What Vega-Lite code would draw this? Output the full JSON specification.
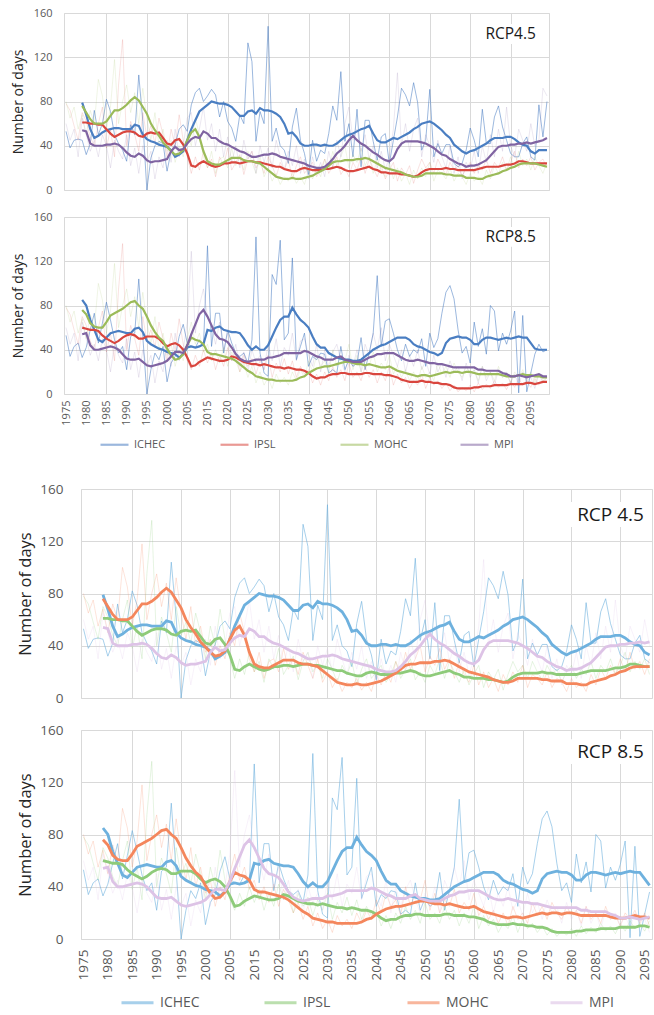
{
"$schema":"https://vega.github.io/schema/vega-lite/v6.json",
"padding":{"left":10,"top":6,"right":0,"bottom":0},
"config":{"font":"Open Sans","view":{"stroke":"#d9d9d9","strokeWidth":1},
"axis":{"labelFont":"Open Sans","titleFont":"Open Sans","labelColor":"#595959","titleColor":"#262626","titleFontWeight":"normal","gridColor":"#d9d9d9","domain":false,"ticks":false,"labelOverlap":false},
"legend":{"labelFont":"Open Sans","layout":{"bottom":{"anchor":"middle"}}},
"text":{"font":"Open Sans"}},
"datasets":{
"annual":[
{"rcp":"4.5","year":1975,"ICHEC":53,"IPSL":78,"MOHC":80,"MPI":60},
{"rcp":"4.5","year":1976,"ICHEC":38,"IPSL":72,"MOHC":65,"MPI":45},
{"rcp":"4.5","year":1977,"ICHEC":45,"IPSL":58,"MOHC":75,"MPI":55},
{"rcp":"4.5","year":1978,"ICHEC":46,"IPSL":45,"MOHC":55,"MPI":30},
{"rcp":"4.5","year":1979,"ICHEC":45,"IPSL":70,"MOHC":68,"MPI":65},
{"rcp":"4.5","year":1980,"ICHEC":32,"IPSL":62,"MOHC":50,"MPI":50},
{"rcp":"4.5","year":1981,"ICHEC":42,"IPSL":48,"MOHC":72,"MPI":35},
{"rcp":"4.5","year":1982,"ICHEC":72,"IPSL":40,"MOHC":60,"MPI":45},
{"rcp":"4.5","year":1983,"ICHEC":50,"IPSL":60,"MOHC":100,"MPI":30},
{"rcp":"4.5","year":1984,"ICHEC":60,"IPSL":75,"MOHC":85,"MPI":50},
{"rcp":"4.5","year":1985,"ICHEC":82,"IPSL":38,"MOHC":55,"MPI":40},
{"rcp":"4.5","year":1986,"ICHEC":71,"IPSL":55,"MOHC":75,"MPI":20},
{"rcp":"4.5","year":1987,"ICHEC":50,"IPSL":30,"MOHC":118,"MPI":45},
{"rcp":"4.5","year":1988,"ICHEC":42,"IPSL":95,"MOHC":60,"MPI":35},
{"rcp":"4.5","year":1989,"ICHEC":36,"IPSL":136,"MOHC":80,"MPI":28},
{"rcp":"4.5","year":1990,"ICHEC":26,"IPSL":40,"MOHC":95,"MPI":50},
{"rcp":"4.5","year":1991,"ICHEC":59,"IPSL":62,"MOHC":70,"MPI":22},
{"rcp":"4.5","year":1992,"ICHEC":50,"IPSL":50,"MOHC":88,"MPI":38},
{"rcp":"4.5","year":1993,"ICHEC":104,"IPSL":35,"MOHC":60,"MPI":15},
{"rcp":"4.5","year":1994,"ICHEC":62,"IPSL":70,"MOHC":92,"MPI":40},
{"rcp":"4.5","year":1995,"ICHEC":0,"IPSL":48,"MOHC":65,"MPI":25},
{"rcp":"4.5","year":1996,"ICHEC":29,"IPSL":58,"MOHC":45,"MPI":35},
{"rcp":"4.5","year":1997,"ICHEC":40,"IPSL":42,"MOHC":70,"MPI":10},
{"rcp":"4.5","year":1998,"ICHEC":44,"IPSL":65,"MOHC":40,"MPI":30},
{"rcp":"4.5","year":1999,"ICHEC":42,"IPSL":50,"MOHC":55,"MPI":20},
{"rcp":"4.5","year":2000,"ICHEC":17,"IPSL":30,"MOHC":35,"MPI":45},
{"rcp":"4.5","year":2001,"ICHEC":35,"IPSL":55,"MOHC":45,"MPI":25},
{"rcp":"4.5","year":2002,"ICHEC":41,"IPSL":40,"MOHC":25,"MPI":55},
{"rcp":"4.5","year":2003,"ICHEC":55,"IPSL":68,"MOHC":40,"MPI":30},
{"rcp":"4.5","year":2004,"ICHEC":59,"IPSL":45,"MOHC":30,"MPI":40},
{"rcp":"4.5","year":2005,"ICHEC":53,"IPSL":30,"MOHC":50,"MPI":65},
{"rcp":"4.5","year":2011,"ICHEC":77,"IPSL":15,"MOHC":40,"MPI":70},
{"rcp":"4.5","year":2012,"ICHEC":88,"IPSL":30,"MOHC":65,"MPI":40},
{"rcp":"4.5","year":2013,"ICHEC":92,"IPSL":18,"MOHC":50,"MPI":55},
{"rcp":"4.5","year":2014,"ICHEC":80,"IPSL":35,"MOHC":30,"MPI":75},
{"rcp":"4.5","year":2015,"ICHEC":85,"IPSL":20,"MOHC":20,"MPI":45},
{"rcp":"4.5","year":2016,"ICHEC":91,"IPSL":28,"MOHC":35,"MPI":60},
{"rcp":"4.5","year":2017,"ICHEC":86,"IPSL":12,"MOHC":15,"MPI":35},
{"rcp":"4.5","year":2018,"ICHEC":66,"IPSL":30,"MOHC":28,"MPI":55},
{"rcp":"4.5","year":2019,"ICHEC":80,"IPSL":22,"MOHC":30,"MPI":30},
{"rcp":"4.5","year":2020,"ICHEC":62,"IPSL":38,"MOHC":20,"MPI":48},
{"rcp":"4.5","year":2021,"ICHEC":56,"IPSL":18,"MOHC":38,"MPI":25},
{"rcp":"4.5","year":2022,"ICHEC":44,"IPSL":25,"MOHC":22,"MPI":40},
{"rcp":"4.5","year":2023,"ICHEC":68,"IPSL":32,"MOHC":30,"MPI":20},
{"rcp":"4.5","year":2024,"ICHEC":60,"IPSL":14,"MOHC":18,"MPI":45},
{"rcp":"4.5","year":2025,"ICHEC":133,"IPSL":28,"MOHC":35,"MPI":28},
{"rcp":"4.5","year":2026,"ICHEC":116,"IPSL":35,"MOHC":25,"MPI":35},
{"rcp":"4.5","year":2027,"ICHEC":44,"IPSL":20,"MOHC":15,"MPI":15},
{"rcp":"4.5","year":2028,"ICHEC":71,"IPSL":26,"MOHC":30,"MPI":40},
{"rcp":"4.5","year":2029,"ICHEC":60,"IPSL":15,"MOHC":12,"MPI":25},
{"rcp":"4.5","year":2030,"ICHEC":148,"IPSL":30,"MOHC":20,"MPI":38},
{"rcp":"4.5","year":2031,"ICHEC":44,"IPSL":22,"MOHC":8,"MPI":20},
{"rcp":"4.5","year":2032,"ICHEC":56,"IPSL":12,"MOHC":15,"MPI":45},
{"rcp":"4.5","year":2033,"ICHEC":40,"IPSL":25,"MOHC":5,"MPI":30},
{"rcp":"4.5","year":2034,"ICHEC":36,"IPSL":18,"MOHC":12,"MPI":18},
{"rcp":"4.5","year":2035,"ICHEC":24,"IPSL":28,"MOHC":8,"MPI":35},
{"rcp":"4.5","year":2036,"ICHEC":57,"IPSL":10,"MOHC":15,"MPI":22},
{"rcp":"4.5","year":2037,"ICHEC":74,"IPSL":22,"MOHC":6,"MPI":40},
{"rcp":"4.5","year":2038,"ICHEC":45,"IPSL":30,"MOHC":12,"MPI":15},
{"rcp":"4.5","year":2039,"ICHEC":33,"IPSL":15,"MOHC":5,"MPI":28},
{"rcp":"4.5","year":2040,"ICHEC":14,"IPSL":20,"MOHC":18,"MPI":10},
{"rcp":"4.5","year":2041,"ICHEC":45,"IPSL":25,"MOHC":10,"MPI":30},
{"rcp":"4.5","year":2042,"ICHEC":26,"IPSL":12,"MOHC":20,"MPI":15},
{"rcp":"4.5","year":2043,"ICHEC":36,"IPSL":18,"MOHC":12,"MPI":25},
{"rcp":"4.5","year":2044,"ICHEC":33,"IPSL":28,"MOHC":28,"MPI":12},
{"rcp":"4.5","year":2045,"ICHEC":51,"IPSL":15,"MOHC":18,"MPI":35},
{"rcp":"4.5","year":2046,"ICHEC":76,"IPSL":22,"MOHC":35,"MPI":20},
{"rcp":"4.5","year":2047,"ICHEC":63,"IPSL":30,"MOHC":22,"MPI":45},
{"rcp":"4.5","year":2048,"ICHEC":107,"IPSL":14,"MOHC":30,"MPI":30},
{"rcp":"4.5","year":2049,"ICHEC":44,"IPSL":20,"MOHC":40,"MPI":60},
{"rcp":"4.5","year":2050,"ICHEC":60,"IPSL":12,"MOHC":20,"MPI":75},
{"rcp":"4.5","year":2051,"ICHEC":30,"IPSL":25,"MOHC":32,"MPI":45},
{"rcp":"4.5","year":2052,"ICHEC":73,"IPSL":18,"MOHC":25,"MPI":55},
{"rcp":"4.5","year":2053,"ICHEC":21,"IPSL":30,"MOHC":38,"MPI":35},
{"rcp":"4.5","year":2054,"ICHEC":63,"IPSL":15,"MOHC":22,"MPI":50},
{"rcp":"4.5","year":2055,"ICHEC":63,"IPSL":28,"MOHC":30,"MPI":28},
{"rcp":"4.5","year":2056,"ICHEC":44,"IPSL":20,"MOHC":15,"MPI":40},
{"rcp":"4.5","year":2057,"ICHEC":27,"IPSL":12,"MOHC":28,"MPI":20},
{"rcp":"4.5","year":2058,"ICHEC":48,"IPSL":22,"MOHC":18,"MPI":35},
{"rcp":"4.5","year":2059,"ICHEC":51,"IPSL":10,"MOHC":12,"MPI":18},
{"rcp":"4.5","year":2060,"ICHEC":24,"IPSL":18,"MOHC":25,"MPI":30},
{"rcp":"4.5","year":2061,"ICHEC":45,"IPSL":25,"MOHC":10,"MPI":55},
{"rcp":"4.5","year":2062,"ICHEC":66,"IPSL":8,"MOHC":20,"MPI":106},
{"rcp":"4.5","year":2063,"ICHEC":92,"IPSL":20,"MOHC":8,"MPI":40},
{"rcp":"4.5","year":2064,"ICHEC":86,"IPSL":14,"MOHC":15,"MPI":60},
{"rcp":"4.5","year":2065,"ICHEC":76,"IPSL":22,"MOHC":5,"MPI":35},
{"rcp":"4.5","year":2066,"ICHEC":97,"IPSL":6,"MOHC":18,"MPI":55},
{"rcp":"4.5","year":2067,"ICHEC":79,"IPSL":18,"MOHC":10,"MPI":65},
{"rcp":"4.5","year":2068,"ICHEC":36,"IPSL":28,"MOHC":20,"MPI":30},
{"rcp":"4.5","year":2069,"ICHEC":45,"IPSL":20,"MOHC":12,"MPI":50},
{"rcp":"4.5","year":2070,"ICHEC":91,"IPSL":25,"MOHC":25,"MPI":40},
{"rcp":"4.5","year":2071,"ICHEC":30,"IPSL":15,"MOHC":8,"MPI":25},
{"rcp":"4.5","year":2072,"ICHEC":42,"IPSL":28,"MOHC":18,"MPI":45},
{"rcp":"4.5","year":2073,"ICHEC":33,"IPSL":20,"MOHC":15,"MPI":30},
{"rcp":"4.5","year":2074,"ICHEC":41,"IPSL":14,"MOHC":10,"MPI":20},
{"rcp":"4.5","year":2075,"ICHEC":41,"IPSL":25,"MOHC":20,"MPI":40},
{"rcp":"4.5","year":2076,"ICHEC":24,"IPSL":18,"MOHC":8,"MPI":15},
{"rcp":"4.5","year":2077,"ICHEC":21,"IPSL":22,"MOHC":15,"MPI":30},
{"rcp":"4.5","year":2078,"ICHEC":24,"IPSL":12,"MOHC":12,"MPI":10},
{"rcp":"4.5","year":2079,"ICHEC":36,"IPSL":20,"MOHC":5,"MPI":25},
{"rcp":"4.5","year":2080,"ICHEC":56,"IPSL":25,"MOHC":15,"MPI":18},
{"rcp":"4.5","year":2081,"ICHEC":45,"IPSL":15,"MOHC":8,"MPI":35},
{"rcp":"4.5","year":2082,"ICHEC":30,"IPSL":22,"MOHC":12,"MPI":15},
{"rcp":"4.5","year":2083,"ICHEC":73,"IPSL":18,"MOHC":5,"MPI":40},
{"rcp":"4.5","year":2084,"ICHEC":42,"IPSL":28,"MOHC":18,"MPI":25},
{"rcp":"4.5","year":2085,"ICHEC":42,"IPSL":15,"MOHC":10,"MPI":50},
{"rcp":"4.5","year":2086,"ICHEC":66,"IPSL":25,"MOHC":22,"MPI":30},
{"rcp":"4.5","year":2087,"ICHEC":76,"IPSL":20,"MOHC":15,"MPI":55},
{"rcp":"4.5","year":2088,"ICHEC":57,"IPSL":30,"MOHC":25,"MPI":35},
{"rcp":"4.5","year":2089,"ICHEC":45,"IPSL":18,"MOHC":18,"MPI":75},
{"rcp":"4.5","year":2090,"ICHEC":33,"IPSL":25,"MOHC":30,"MPI":40},
{"rcp":"4.5","year":2091,"ICHEC":30,"IPSL":35,"MOHC":20,"MPI":30},
{"rcp":"4.5","year":2092,"ICHEC":30,"IPSL":20,"MOHC":35,"MPI":55},
{"rcp":"4.5","year":2093,"ICHEC":42,"IPSL":28,"MOHC":22,"MPI":45},
{"rcp":"4.5","year":2094,"ICHEC":48,"IPSL":22,"MOHC":28,"MPI":35},
{"rcp":"4.5","year":2095,"ICHEC":30,"IPSL":30,"MOHC":18,"MPI":60},
{"rcp":"4.5","year":2096,"ICHEC":27,"IPSL":18,"MOHC":30,"MPI":40},
{"rcp":"4.5","year":2097,"ICHEC":77,"IPSL":25,"MOHC":22,"MPI":45},
{"rcp":"4.5","year":2098,"ICHEC":48,"IPSL":28,"MOHC":15,"MPI":92},
{"rcp":"4.5","year":2099,"ICHEC":80,"IPSL":20,"MOHC":25,"MPI":85},
{"rcp":"8.5","year":1975,"ICHEC":53,"IPSL":78,"MOHC":80,"MPI":60},
{"rcp":"8.5","year":1976,"ICHEC":34,"IPSL":72,"MOHC":65,"MPI":45},
{"rcp":"8.5","year":1977,"ICHEC":43,"IPSL":58,"MOHC":75,"MPI":55},
{"rcp":"8.5","year":1978,"ICHEC":46,"IPSL":45,"MOHC":55,"MPI":30},
{"rcp":"8.5","year":1979,"ICHEC":33,"IPSL":70,"MOHC":68,"MPI":65},
{"rcp":"8.5","year":1980,"ICHEC":42,"IPSL":62,"MOHC":50,"MPI":50},
{"rcp":"8.5","year":1981,"ICHEC":58,"IPSL":48,"MOHC":72,"MPI":35},
{"rcp":"8.5","year":1982,"ICHEC":73,"IPSL":40,"MOHC":60,"MPI":45},
{"rcp":"8.5","year":1983,"ICHEC":46,"IPSL":60,"MOHC":100,"MPI":30},
{"rcp":"8.5","year":1984,"ICHEC":64,"IPSL":75,"MOHC":85,"MPI":50},
{"rcp":"8.5","year":1985,"ICHEC":83,"IPSL":38,"MOHC":55,"MPI":40},
{"rcp":"8.5","year":1986,"ICHEC":67,"IPSL":55,"MOHC":75,"MPI":20},
{"rcp":"8.5","year":1987,"ICHEC":49,"IPSL":30,"MOHC":118,"MPI":45},
{"rcp":"8.5","year":1988,"ICHEC":37,"IPSL":95,"MOHC":60,"MPI":35},
{"rcp":"8.5","year":1989,"ICHEC":43,"IPSL":136,"MOHC":80,"MPI":28},
{"rcp":"8.5","year":1990,"ICHEC":22,"IPSL":40,"MOHC":95,"MPI":50},
{"rcp":"8.5","year":1991,"ICHEC":52,"IPSL":62,"MOHC":70,"MPI":22},
{"rcp":"8.5","year":1992,"ICHEC":55,"IPSL":50,"MOHC":88,"MPI":38},
{"rcp":"8.5","year":1993,"ICHEC":104,"IPSL":35,"MOHC":60,"MPI":15},
{"rcp":"8.5","year":1994,"ICHEC":52,"IPSL":70,"MOHC":92,"MPI":40},
{"rcp":"8.5","year":1995,"ICHEC":0,"IPSL":48,"MOHC":65,"MPI":25},
{"rcp":"8.5","year":1996,"ICHEC":22,"IPSL":58,"MOHC":45,"MPI":35},
{"rcp":"8.5","year":1997,"ICHEC":37,"IPSL":42,"MOHC":70,"MPI":10},
{"rcp":"8.5","year":1998,"ICHEC":31,"IPSL":65,"MOHC":40,"MPI":30},
{"rcp":"8.5","year":1999,"ICHEC":43,"IPSL":50,"MOHC":55,"MPI":20},
{"rcp":"8.5","year":2000,"ICHEC":11,"IPSL":30,"MOHC":35,"MPI":45},
{"rcp":"8.5","year":2001,"ICHEC":28,"IPSL":55,"MOHC":45,"MPI":25},
{"rcp":"8.5","year":2002,"ICHEC":34,"IPSL":40,"MOHC":25,"MPI":55},
{"rcp":"8.5","year":2003,"ICHEC":52,"IPSL":68,"MOHC":40,"MPI":30},
{"rcp":"8.5","year":2004,"ICHEC":63,"IPSL":45,"MOHC":30,"MPI":40},
{"rcp":"8.5","year":2005,"ICHEC":46,"IPSL":30,"MOHC":50,"MPI":65},
{"rcp":"8.5","year":2011,"ICHEC":43,"IPSL":22,"MOHC":65,"MPI":129},
{"rcp":"8.5","year":2012,"ICHEC":42,"IPSL":35,"MOHC":45,"MPI":55},
{"rcp":"8.5","year":2013,"ICHEC":49,"IPSL":25,"MOHC":55,"MPI":80},
{"rcp":"8.5","year":2014,"ICHEC":43,"IPSL":40,"MOHC":38,"MPI":95},
{"rcp":"8.5","year":2015,"ICHEC":134,"IPSL":28,"MOHC":45,"MPI":70},
{"rcp":"8.5","year":2016,"ICHEC":43,"IPSL":38,"MOHC":30,"MPI":60},
{"rcp":"8.5","year":2017,"ICHEC":73,"IPSL":22,"MOHC":40,"MPI":45},
{"rcp":"8.5","year":2018,"ICHEC":73,"IPSL":35,"MOHC":28,"MPI":65},
{"rcp":"8.5","year":2019,"ICHEC":37,"IPSL":25,"MOHC":42,"MPI":40},
{"rcp":"8.5","year":2020,"ICHEC":58,"IPSL":42,"MOHC":25,"MPI":55},
{"rcp":"8.5","year":2021,"ICHEC":46,"IPSL":30,"MOHC":38,"MPI":30},
{"rcp":"8.5","year":2022,"ICHEC":37,"IPSL":38,"MOHC":30,"MPI":45},
{"rcp":"8.5","year":2023,"ICHEC":34,"IPSL":20,"MOHC":20,"MPI":25},
{"rcp":"8.5","year":2024,"ICHEC":37,"IPSL":35,"MOHC":28,"MPI":38},
{"rcp":"8.5","year":2025,"ICHEC":28,"IPSL":25,"MOHC":15,"MPI":20},
{"rcp":"8.5","year":2026,"ICHEC":49,"IPSL":32,"MOHC":25,"MPI":40},
{"rcp":"8.5","year":2027,"ICHEC":142,"IPSL":18,"MOHC":10,"MPI":28},
{"rcp":"8.5","year":2028,"ICHEC":37,"IPSL":30,"MOHC":20,"MPI":35},
{"rcp":"8.5","year":2029,"ICHEC":19,"IPSL":22,"MOHC":8,"MPI":22},
{"rcp":"8.5","year":2030,"ICHEC":16,"IPSL":35,"MOHC":15,"MPI":45},
{"rcp":"8.5","year":2031,"ICHEC":108,"IPSL":15,"MOHC":5,"MPI":30},
{"rcp":"8.5","year":2032,"ICHEC":99,"IPSL":28,"MOHC":18,"MPI":50},
{"rcp":"8.5","year":2033,"ICHEC":139,"IPSL":20,"MOHC":10,"MPI":25},
{"rcp":"8.5","year":2034,"ICHEC":49,"IPSL":32,"MOHC":15,"MPI":42},
{"rcp":"8.5","year":2035,"ICHEC":55,"IPSL":18,"MOHC":8,"MPI":35},
{"rcp":"8.5","year":2036,"ICHEC":123,"IPSL":30,"MOHC":20,"MPI":55},
{"rcp":"8.5","year":2037,"ICHEC":31,"IPSL":15,"MOHC":12,"MPI":30},
{"rcp":"8.5","year":2038,"ICHEC":43,"IPSL":25,"MOHC":22,"MPI":48},
{"rcp":"8.5","year":2039,"ICHEC":55,"IPSL":18,"MOHC":15,"MPI":50},
{"rcp":"8.5","year":2040,"ICHEC":25,"IPSL":22,"MOHC":30,"MPI":35},
{"rcp":"8.5","year":2041,"ICHEC":34,"IPSL":10,"MOHC":20,"MPI":25},
{"rcp":"8.5","year":2042,"ICHEC":31,"IPSL":18,"MOHC":35,"MPI":45},
{"rcp":"8.5","year":2043,"ICHEC":37,"IPSL":8,"MOHC":25,"MPI":20},
{"rcp":"8.5","year":2044,"ICHEC":36,"IPSL":20,"MOHC":30,"MPI":40},
{"rcp":"8.5","year":2045,"ICHEC":19,"IPSL":12,"MOHC":18,"MPI":25},
{"rcp":"8.5","year":2046,"ICHEC":22,"IPSL":25,"MOHC":40,"MPI":38},
{"rcp":"8.5","year":2047,"ICHEC":19,"IPSL":15,"MOHC":25,"MPI":45},
{"rcp":"8.5","year":2048,"ICHEC":43,"IPSL":22,"MOHC":35,"MPI":30},
{"rcp":"8.5","year":2049,"ICHEC":22,"IPSL":12,"MOHC":30,"MPI":20},
{"rcp":"8.5","year":2050,"ICHEC":31,"IPSL":28,"MOHC":45,"MPI":35},
{"rcp":"8.5","year":2051,"ICHEC":25,"IPSL":15,"MOHC":22,"MPI":25},
{"rcp":"8.5","year":2052,"ICHEC":28,"IPSL":20,"MOHC":35,"MPI":40},
{"rcp":"8.5","year":2053,"ICHEC":51,"IPSL":12,"MOHC":20,"MPI":20},
{"rcp":"8.5","year":2054,"ICHEC":22,"IPSL":25,"MOHC":30,"MPI":45},
{"rcp":"8.5","year":2055,"ICHEC":37,"IPSL":15,"MOHC":25,"MPI":35},
{"rcp":"8.5","year":2056,"ICHEC":55,"IPSL":22,"MOHC":38,"MPI":55},
{"rcp":"8.5","year":2057,"ICHEC":107,"IPSL":10,"MOHC":20,"MPI":40},
{"rcp":"8.5","year":2058,"ICHEC":43,"IPSL":20,"MOHC":28,"MPI":60},
{"rcp":"8.5","year":2059,"ICHEC":66,"IPSL":12,"MOHC":22,"MPI":30},
{"rcp":"8.5","year":2060,"ICHEC":68,"IPSL":25,"MOHC":35,"MPI":45},
{"rcp":"8.5","year":2061,"ICHEC":55,"IPSL":8,"MOHC":18,"MPI":35},
{"rcp":"8.5","year":2062,"ICHEC":40,"IPSL":18,"MOHC":25,"MPI":25},
{"rcp":"8.5","year":2063,"ICHEC":30,"IPSL":10,"MOHC":15,"MPI":40},
{"rcp":"8.5","year":2064,"ICHEC":45,"IPSL":15,"MOHC":22,"MPI":20},
{"rcp":"8.5","year":2065,"ICHEC":34,"IPSL":5,"MOHC":12,"MPI":35},
{"rcp":"8.5","year":2066,"ICHEC":40,"IPSL":12,"MOHC":20,"MPI":25},
{"rcp":"8.5","year":2067,"ICHEC":37,"IPSL":8,"MOHC":10,"MPI":40},
{"rcp":"8.5","year":2068,"ICHEC":50,"IPSL":18,"MOHC":25,"MPI":22},
{"rcp":"8.5","year":2069,"ICHEC":25,"IPSL":5,"MOHC":15,"MPI":30},
{"rcp":"8.5","year":2070,"ICHEC":55,"IPSL":15,"MOHC":20,"MPI":18},
{"rcp":"8.5","year":2071,"ICHEC":42,"IPSL":8,"MOHC":12,"MPI":35},
{"rcp":"8.5","year":2072,"ICHEC":50,"IPSL":12,"MOHC":28,"MPI":20},
{"rcp":"8.5","year":2073,"ICHEC":73,"IPSL":5,"MOHC":18,"MPI":28},
{"rcp":"8.5","year":2074,"ICHEC":92,"IPSL":10,"MOHC":25,"MPI":15},
{"rcp":"8.5","year":2075,"ICHEC":98,"IPSL":3,"MOHC":15,"MPI":30},
{"rcp":"8.5","year":2076,"ICHEC":86,"IPSL":8,"MOHC":28,"MPI":20},
{"rcp":"8.5","year":2077,"ICHEC":58,"IPSL":2,"MOHC":20,"MPI":25},
{"rcp":"8.5","year":2078,"ICHEC":37,"IPSL":6,"MOHC":15,"MPI":12},
{"rcp":"8.5","year":2079,"ICHEC":43,"IPSL":3,"MOHC":25,"MPI":28},
{"rcp":"8.5","year":2080,"ICHEC":28,"IPSL":8,"MOHC":18,"MPI":15},
{"rcp":"8.5","year":2081,"ICHEC":65,"IPSL":2,"MOHC":22,"MPI":22},
{"rcp":"8.5","year":2082,"ICHEC":43,"IPSL":10,"MOHC":12,"MPI":10},
{"rcp":"8.5","year":2083,"ICHEC":59,"IPSL":4,"MOHC":25,"MPI":25},
{"rcp":"8.5","year":2084,"ICHEC":36,"IPSL":9,"MOHC":15,"MPI":12},
{"rcp":"8.5","year":2085,"ICHEC":80,"IPSL":5,"MOHC":20,"MPI":20},
{"rcp":"8.5","year":2086,"ICHEC":75,"IPSL":12,"MOHC":12,"MPI":8},
{"rcp":"8.5","year":2087,"ICHEC":39,"IPSL":6,"MOHC":25,"MPI":22},
{"rcp":"8.5","year":2088,"ICHEC":55,"IPSL":10,"MOHC":15,"MPI":15},
{"rcp":"8.5","year":2089,"ICHEC":45,"IPSL":4,"MOHC":18,"MPI":20},
{"rcp":"8.5","year":2090,"ICHEC":57,"IPSL":12,"MOHC":10,"MPI":10},
{"rcp":"8.5","year":2091,"ICHEC":75,"IPSL":6,"MOHC":20,"MPI":18},
{"rcp":"8.5","year":2092,"ICHEC":1,"IPSL":14,"MOHC":15,"MPI":8},
{"rcp":"8.5","year":2093,"ICHEC":71,"IPSL":8,"MOHC":22,"MPI":20},
{"rcp":"8.5","year":2094,"ICHEC":2,"IPSL":12,"MOHC":12,"MPI":12},
{"rcp":"8.5","year":2095,"ICHEC":19,"IPSL":6,"MOHC":20,"MPI":15},
{"rcp":"8.5","year":2096,"ICHEC":36,"IPSL":14,"MOHC":10,"MPI":5},
{"rcp":"8.5","year":2097,"ICHEC":45,"IPSL":8,"MOHC":18,"MPI":18},
{"rcp":"8.5","year":2098,"ICHEC":38,"IPSL":12,"MOHC":12,"MPI":10},
{"rcp":"8.5","year":2099,"ICHEC":40,"IPSL":10,"MOHC":15,"MPI":15}
],
"smooth":[
{"rcp":"4.5","year":1979,"ICHEC":79,"IPSL":61,"MOHC":76,"MPI":54},
{"rcp":"4.5","year":1980,"ICHEC":68,"IPSL":61,"MOHC":70,"MPI":53},
{"rcp":"4.5","year":1981,"ICHEC":55,"IPSL":60,"MOHC":64,"MPI":42},
{"rcp":"4.5","year":1982,"ICHEC":47,"IPSL":60,"MOHC":60,"MPI":40},
{"rcp":"4.5","year":1983,"ICHEC":49,"IPSL":59,"MOHC":60,"MPI":40},
{"rcp":"4.5","year":1984,"ICHEC":52,"IPSL":59,"MOHC":60,"MPI":40},
{"rcp":"4.5","year":1985,"ICHEC":54,"IPSL":55,"MOHC":62,"MPI":41},
{"rcp":"4.5","year":1986,"ICHEC":55,"IPSL":51,"MOHC":67,"MPI":41},
{"rcp":"4.5","year":1987,"ICHEC":56,"IPSL":48,"MOHC":72,"MPI":42},
{"rcp":"4.5","year":1988,"ICHEC":56,"IPSL":50,"MOHC":72,"MPI":41},
{"rcp":"4.5","year":1989,"ICHEC":55,"IPSL":52,"MOHC":74,"MPI":38},
{"rcp":"4.5","year":1990,"ICHEC":55,"IPSL":53,"MOHC":77,"MPI":34},
{"rcp":"4.5","year":1991,"ICHEC":55,"IPSL":53,"MOHC":81,"MPI":31},
{"rcp":"4.5","year":1992,"ICHEC":59,"IPSL":52,"MOHC":84,"MPI":30},
{"rcp":"4.5","year":1993,"ICHEC":58,"IPSL":49,"MOHC":81,"MPI":33},
{"rcp":"4.5","year":1994,"ICHEC":50,"IPSL":48,"MOHC":75,"MPI":31},
{"rcp":"4.5","year":1995,"ICHEC":46,"IPSL":51,"MOHC":69,"MPI":27},
{"rcp":"4.5","year":1996,"ICHEC":44,"IPSL":52,"MOHC":60,"MPI":25},
{"rcp":"4.5","year":1997,"ICHEC":43,"IPSL":51,"MOHC":54,"MPI":26},
{"rcp":"4.5","year":1998,"ICHEC":41,"IPSL":52,"MOHC":49,"MPI":26},
{"rcp":"4.5","year":1999,"ICHEC":40,"IPSL":47,"MOHC":43,"MPI":27},
{"rcp":"4.5","year":2000,"ICHEC":39,"IPSL":42,"MOHC":39,"MPI":28},
{"rcp":"4.5","year":2001,"ICHEC":36,"IPSL":41,"MOHC":35,"MPI":35},
{"rcp":"4.5","year":2002,"ICHEC":30,"IPSL":45,"MOHC":32,"MPI":39},
{"rcp":"4.5","year":2003,"ICHEC":32,"IPSL":46,"MOHC":33,"MPI":36},
{"rcp":"4.5","year":2004,"ICHEC":35,"IPSL":41,"MOHC":36,"MPI":37},
{"rcp":"4.5","year":2005,"ICHEC":45,"IPSL":33,"MOHC":45,"MPI":42},
{"rcp":"4.5","year":2011,"ICHEC":55,"IPSL":22,"MOHC":52,"MPI":46},
{"rcp":"4.5","year":2012,"ICHEC":63,"IPSL":21,"MOHC":55,"MPI":48},
{"rcp":"4.5","year":2013,"ICHEC":71,"IPSL":24,"MOHC":48,"MPI":47},
{"rcp":"4.5","year":2014,"ICHEC":74,"IPSL":26,"MOHC":35,"MPI":53},
{"rcp":"4.5","year":2015,"ICHEC":77,"IPSL":24,"MOHC":26,"MPI":51},
{"rcp":"4.5","year":2016,"ICHEC":80,"IPSL":22,"MOHC":24,"MPI":47},
{"rcp":"4.5","year":2017,"ICHEC":79,"IPSL":21,"MOHC":23,"MPI":47},
{"rcp":"4.5","year":2018,"ICHEC":78,"IPSL":22,"MOHC":23,"MPI":44},
{"rcp":"4.5","year":2019,"ICHEC":78,"IPSL":24,"MOHC":25,"MPI":42},
{"rcp":"4.5","year":2020,"ICHEC":77,"IPSL":24,"MOHC":27,"MPI":41},
{"rcp":"4.5","year":2021,"ICHEC":75,"IPSL":25,"MOHC":29,"MPI":39},
{"rcp":"4.5","year":2022,"ICHEC":71,"IPSL":25,"MOHC":29,"MPI":37},
{"rcp":"4.5","year":2023,"ICHEC":67,"IPSL":24,"MOHC":29,"MPI":35},
{"rcp":"4.5","year":2024,"ICHEC":67,"IPSL":25,"MOHC":27,"MPI":34},
{"rcp":"4.5","year":2025,"ICHEC":71,"IPSL":26,"MOHC":26,"MPI":32},
{"rcp":"4.5","year":2026,"ICHEC":72,"IPSL":26,"MOHC":26,"MPI":30},
{"rcp":"4.5","year":2027,"ICHEC":69,"IPSL":25,"MOHC":25,"MPI":30},
{"rcp":"4.5","year":2028,"ICHEC":74,"IPSL":25,"MOHC":24,"MPI":31},
{"rcp":"4.5","year":2029,"ICHEC":72,"IPSL":24,"MOHC":21,"MPI":32},
{"rcp":"4.5","year":2030,"ICHEC":72,"IPSL":23,"MOHC":18,"MPI":32},
{"rcp":"4.5","year":2031,"ICHEC":71,"IPSL":22,"MOHC":15,"MPI":33},
{"rcp":"4.5","year":2032,"ICHEC":69,"IPSL":21,"MOHC":12,"MPI":32},
{"rcp":"4.5","year":2033,"ICHEC":66,"IPSL":21,"MOHC":11,"MPI":30},
{"rcp":"4.5","year":2034,"ICHEC":60,"IPSL":19,"MOHC":10,"MPI":29},
{"rcp":"4.5","year":2035,"ICHEC":51,"IPSL":18,"MOHC":10,"MPI":28},
{"rcp":"4.5","year":2036,"ICHEC":52,"IPSL":17,"MOHC":11,"MPI":27},
{"rcp":"4.5","year":2037,"ICHEC":48,"IPSL":17,"MOHC":10,"MPI":26},
{"rcp":"4.5","year":2038,"ICHEC":42,"IPSL":19,"MOHC":10,"MPI":25},
{"rcp":"4.5","year":2039,"ICHEC":40,"IPSL":20,"MOHC":11,"MPI":24},
{"rcp":"4.5","year":2040,"ICHEC":40,"IPSL":19,"MOHC":12,"MPI":22},
{"rcp":"4.5","year":2041,"ICHEC":41,"IPSL":18,"MOHC":13,"MPI":21},
{"rcp":"4.5","year":2042,"ICHEC":41,"IPSL":18,"MOHC":15,"MPI":20},
{"rcp":"4.5","year":2043,"ICHEC":40,"IPSL":18,"MOHC":17,"MPI":20},
{"rcp":"4.5","year":2044,"ICHEC":41,"IPSL":19,"MOHC":19,"MPI":21},
{"rcp":"4.5","year":2045,"ICHEC":40,"IPSL":19,"MOHC":22,"MPI":24},
{"rcp":"4.5","year":2046,"ICHEC":40,"IPSL":20,"MOHC":25,"MPI":28},
{"rcp":"4.5","year":2047,"ICHEC":42,"IPSL":21,"MOHC":26,"MPI":33},
{"rcp":"4.5","year":2048,"ICHEC":45,"IPSL":20,"MOHC":26,"MPI":36},
{"rcp":"4.5","year":2049,"ICHEC":48,"IPSL":18,"MOHC":27,"MPI":40},
{"rcp":"4.5","year":2050,"ICHEC":50,"IPSL":17,"MOHC":27,"MPI":45},
{"rcp":"4.5","year":2051,"ICHEC":51,"IPSL":17,"MOHC":27,"MPI":49},
{"rcp":"4.5","year":2052,"ICHEC":53,"IPSL":18,"MOHC":28,"MPI":45},
{"rcp":"4.5","year":2053,"ICHEC":55,"IPSL":19,"MOHC":28,"MPI":42},
{"rcp":"4.5","year":2054,"ICHEC":56,"IPSL":20,"MOHC":29,"MPI":40},
{"rcp":"4.5","year":2055,"ICHEC":58,"IPSL":21,"MOHC":28,"MPI":37},
{"rcp":"4.5","year":2056,"ICHEC":51,"IPSL":19,"MOHC":26,"MPI":34},
{"rcp":"4.5","year":2057,"ICHEC":45,"IPSL":18,"MOHC":24,"MPI":32},
{"rcp":"4.5","year":2058,"ICHEC":43,"IPSL":16,"MOHC":22,"MPI":29},
{"rcp":"4.5","year":2059,"ICHEC":43,"IPSL":16,"MOHC":20,"MPI":27},
{"rcp":"4.5","year":2060,"ICHEC":45,"IPSL":15,"MOHC":19,"MPI":26},
{"rcp":"4.5","year":2061,"ICHEC":47,"IPSL":15,"MOHC":18,"MPI":29},
{"rcp":"4.5","year":2062,"ICHEC":46,"IPSL":15,"MOHC":17,"MPI":37},
{"rcp":"4.5","year":2063,"ICHEC":48,"IPSL":14,"MOHC":16,"MPI":42},
{"rcp":"4.5","year":2064,"ICHEC":50,"IPSL":14,"MOHC":14,"MPI":44},
{"rcp":"4.5","year":2065,"ICHEC":52,"IPSL":13,"MOHC":13,"MPI":44},
{"rcp":"4.5","year":2066,"ICHEC":55,"IPSL":12,"MOHC":12,"MPI":44},
{"rcp":"4.5","year":2067,"ICHEC":57,"IPSL":13,"MOHC":12,"MPI":44},
{"rcp":"4.5","year":2068,"ICHEC":60,"IPSL":16,"MOHC":13,"MPI":43},
{"rcp":"4.5","year":2069,"ICHEC":61,"IPSL":18,"MOHC":15,"MPI":42},
{"rcp":"4.5","year":2070,"ICHEC":62,"IPSL":19,"MOHC":15,"MPI":40},
{"rcp":"4.5","year":2071,"ICHEC":60,"IPSL":19,"MOHC":15,"MPI":38},
{"rcp":"4.5","year":2072,"ICHEC":57,"IPSL":19,"MOHC":15,"MPI":35},
{"rcp":"4.5","year":2073,"ICHEC":54,"IPSL":19,"MOHC":15,"MPI":32},
{"rcp":"4.5","year":2074,"ICHEC":50,"IPSL":20,"MOHC":14,"MPI":31},
{"rcp":"4.5","year":2075,"ICHEC":47,"IPSL":19,"MOHC":14,"MPI":28},
{"rcp":"4.5","year":2076,"ICHEC":41,"IPSL":19,"MOHC":13,"MPI":26},
{"rcp":"4.5","year":2077,"ICHEC":38,"IPSL":18,"MOHC":13,"MPI":24},
{"rcp":"4.5","year":2078,"ICHEC":35,"IPSL":18,"MOHC":13,"MPI":23},
{"rcp":"4.5","year":2079,"ICHEC":33,"IPSL":18,"MOHC":11,"MPI":21},
{"rcp":"4.5","year":2080,"ICHEC":35,"IPSL":18,"MOHC":11,"MPI":22},
{"rcp":"4.5","year":2081,"ICHEC":36,"IPSL":18,"MOHC":11,"MPI":22},
{"rcp":"4.5","year":2082,"ICHEC":38,"IPSL":19,"MOHC":10,"MPI":23},
{"rcp":"4.5","year":2083,"ICHEC":40,"IPSL":20,"MOHC":10,"MPI":25},
{"rcp":"4.5","year":2084,"ICHEC":42,"IPSL":21,"MOHC":12,"MPI":27},
{"rcp":"4.5","year":2085,"ICHEC":45,"IPSL":21,"MOHC":13,"MPI":31},
{"rcp":"4.5","year":2086,"ICHEC":47,"IPSL":21,"MOHC":14,"MPI":35},
{"rcp":"4.5","year":2087,"ICHEC":47,"IPSL":21,"MOHC":15,"MPI":39},
{"rcp":"4.5","year":2088,"ICHEC":47,"IPSL":22,"MOHC":17,"MPI":40},
{"rcp":"4.5","year":2089,"ICHEC":48,"IPSL":23,"MOHC":18,"MPI":40},
{"rcp":"4.5","year":2090,"ICHEC":48,"IPSL":23,"MOHC":20,"MPI":41},
{"rcp":"4.5","year":2091,"ICHEC":46,"IPSL":24,"MOHC":21,"MPI":41},
{"rcp":"4.5","year":2092,"ICHEC":43,"IPSL":26,"MOHC":23,"MPI":42},
{"rcp":"4.5","year":2093,"ICHEC":41,"IPSL":26,"MOHC":24,"MPI":42},
{"rcp":"4.5","year":2094,"ICHEC":40,"IPSL":25,"MOHC":24,"MPI":43},
{"rcp":"4.5","year":2095,"ICHEC":35,"IPSL":24,"MOHC":24,"MPI":42},
{"rcp":"4.5","year":2096,"ICHEC":33,"IPSL":24,"MOHC":24,"MPI":43},
{"rcp":"4.5","year":2097,"ICHEC":36,"IPSL":24,"MOHC":23,"MPI":44},
{"rcp":"4.5","year":2098,"ICHEC":36,"IPSL":24,"MOHC":22,"MPI":45},
{"rcp":"4.5","year":2099,"ICHEC":36,"IPSL":24,"MOHC":21,"MPI":47},
{"rcp":"8.5","year":1979,"ICHEC":85,"IPSL":60,"MOHC":76,"MPI":54},
{"rcp":"8.5","year":1980,"ICHEC":80,"IPSL":59,"MOHC":72,"MPI":55},
{"rcp":"8.5","year":1981,"ICHEC":67,"IPSL":58,"MOHC":64,"MPI":44},
{"rcp":"8.5","year":1982,"ICHEC":58,"IPSL":58,"MOHC":61,"MPI":40},
{"rcp":"8.5","year":1983,"ICHEC":49,"IPSL":57,"MOHC":60,"MPI":40},
{"rcp":"8.5","year":1984,"ICHEC":47,"IPSL":53,"MOHC":60,"MPI":41},
{"rcp":"8.5","year":1985,"ICHEC":51,"IPSL":50,"MOHC":65,"MPI":42},
{"rcp":"8.5","year":1986,"ICHEC":55,"IPSL":48,"MOHC":71,"MPI":43},
{"rcp":"8.5","year":1987,"ICHEC":56,"IPSL":46,"MOHC":73,"MPI":42},
{"rcp":"8.5","year":1988,"ICHEC":57,"IPSL":48,"MOHC":75,"MPI":40},
{"rcp":"8.5","year":1989,"ICHEC":56,"IPSL":51,"MOHC":77,"MPI":36},
{"rcp":"8.5","year":1990,"ICHEC":55,"IPSL":53,"MOHC":80,"MPI":32},
{"rcp":"8.5","year":1991,"ICHEC":55,"IPSL":54,"MOHC":83,"MPI":31},
{"rcp":"8.5","year":1992,"ICHEC":59,"IPSL":53,"MOHC":84,"MPI":31},
{"rcp":"8.5","year":1993,"ICHEC":60,"IPSL":50,"MOHC":80,"MPI":32},
{"rcp":"8.5","year":1994,"ICHEC":56,"IPSL":50,"MOHC":77,"MPI":29},
{"rcp":"8.5","year":1995,"ICHEC":48,"IPSL":52,"MOHC":70,"MPI":26},
{"rcp":"8.5","year":1996,"ICHEC":45,"IPSL":52,"MOHC":62,"MPI":25},
{"rcp":"8.5","year":1997,"ICHEC":43,"IPSL":52,"MOHC":56,"MPI":26},
{"rcp":"8.5","year":1998,"ICHEC":41,"IPSL":50,"MOHC":51,"MPI":27},
{"rcp":"8.5","year":1999,"ICHEC":40,"IPSL":46,"MOHC":48,"MPI":28},
{"rcp":"8.5","year":2000,"ICHEC":38,"IPSL":43,"MOHC":41,"MPI":30},
{"rcp":"8.5","year":2001,"ICHEC":37,"IPSL":45,"MOHC":35,"MPI":34},
{"rcp":"8.5","year":2002,"ICHEC":36,"IPSL":46,"MOHC":31,"MPI":38},
{"rcp":"8.5","year":2003,"ICHEC":33,"IPSL":44,"MOHC":32,"MPI":38},
{"rcp":"8.5","year":2004,"ICHEC":36,"IPSL":40,"MOHC":36,"MPI":37},
{"rcp":"8.5","year":2005,"ICHEC":42,"IPSL":33,"MOHC":44,"MPI":44},
{"rcp":"8.5","year":2011,"ICHEC":43,"IPSL":25,"MOHC":51,"MPI":54},
{"rcp":"8.5","year":2012,"ICHEC":42,"IPSL":26,"MOHC":49,"MPI":63},
{"rcp":"8.5","year":2013,"ICHEC":43,"IPSL":29,"MOHC":48,"MPI":72},
{"rcp":"8.5","year":2014,"ICHEC":45,"IPSL":31,"MOHC":45,"MPI":76},
{"rcp":"8.5","year":2015,"ICHEC":58,"IPSL":33,"MOHC":38,"MPI":70},
{"rcp":"8.5","year":2016,"ICHEC":57,"IPSL":32,"MOHC":36,"MPI":62},
{"rcp":"8.5","year":2017,"ICHEC":60,"IPSL":31,"MOHC":36,"MPI":54},
{"rcp":"8.5","year":2018,"ICHEC":61,"IPSL":30,"MOHC":35,"MPI":50},
{"rcp":"8.5","year":2019,"ICHEC":58,"IPSL":30,"MOHC":34,"MPI":49},
{"rcp":"8.5","year":2020,"ICHEC":57,"IPSL":31,"MOHC":33,"MPI":47},
{"rcp":"8.5","year":2021,"ICHEC":56,"IPSL":34,"MOHC":32,"MPI":42},
{"rcp":"8.5","year":2022,"ICHEC":56,"IPSL":33,"MOHC":30,"MPI":36},
{"rcp":"8.5","year":2023,"ICHEC":55,"IPSL":31,"MOHC":27,"MPI":32},
{"rcp":"8.5","year":2024,"ICHEC":50,"IPSL":29,"MOHC":24,"MPI":30},
{"rcp":"8.5","year":2025,"ICHEC":44,"IPSL":28,"MOHC":21,"MPI":29},
{"rcp":"8.5","year":2026,"ICHEC":40,"IPSL":27,"MOHC":19,"MPI":30},
{"rcp":"8.5","year":2027,"ICHEC":43,"IPSL":27,"MOHC":16,"MPI":31},
{"rcp":"8.5","year":2028,"ICHEC":40,"IPSL":26,"MOHC":15,"MPI":31},
{"rcp":"8.5","year":2029,"ICHEC":40,"IPSL":27,"MOHC":14,"MPI":31},
{"rcp":"8.5","year":2030,"ICHEC":44,"IPSL":26,"MOHC":13,"MPI":33},
{"rcp":"8.5","year":2031,"ICHEC":52,"IPSL":25,"MOHC":13,"MPI":33},
{"rcp":"8.5","year":2032,"ICHEC":60,"IPSL":24,"MOHC":12,"MPI":34},
{"rcp":"8.5","year":2033,"ICHEC":67,"IPSL":24,"MOHC":12,"MPI":35},
{"rcp":"8.5","year":2034,"ICHEC":70,"IPSL":23,"MOHC":12,"MPI":37},
{"rcp":"8.5","year":2035,"ICHEC":70,"IPSL":24,"MOHC":12,"MPI":37},
{"rcp":"8.5","year":2036,"ICHEC":78,"IPSL":23,"MOHC":12,"MPI":37},
{"rcp":"8.5","year":2037,"ICHEC":72,"IPSL":22,"MOHC":13,"MPI":37},
{"rcp":"8.5","year":2038,"ICHEC":67,"IPSL":22,"MOHC":15,"MPI":37},
{"rcp":"8.5","year":2039,"ICHEC":64,"IPSL":21,"MOHC":16,"MPI":39},
{"rcp":"8.5","year":2040,"ICHEC":60,"IPSL":19,"MOHC":19,"MPI":38},
{"rcp":"8.5","year":2041,"ICHEC":52,"IPSL":16,"MOHC":21,"MPI":36},
{"rcp":"8.5","year":2042,"ICHEC":45,"IPSL":14,"MOHC":23,"MPI":34},
{"rcp":"8.5","year":2043,"ICHEC":42,"IPSL":15,"MOHC":24,"MPI":33},
{"rcp":"8.5","year":2044,"ICHEC":42,"IPSL":15,"MOHC":25,"MPI":31},
{"rcp":"8.5","year":2045,"ICHEC":37,"IPSL":17,"MOHC":25,"MPI":31},
{"rcp":"8.5","year":2046,"ICHEC":35,"IPSL":18,"MOHC":26,"MPI":31},
{"rcp":"8.5","year":2047,"ICHEC":33,"IPSL":18,"MOHC":27,"MPI":33},
{"rcp":"8.5","year":2048,"ICHEC":32,"IPSL":19,"MOHC":28,"MPI":34},
{"rcp":"8.5","year":2049,"ICHEC":31,"IPSL":19,"MOHC":29,"MPI":31},
{"rcp":"8.5","year":2050,"ICHEC":31,"IPSL":18,"MOHC":29,"MPI":30},
{"rcp":"8.5","year":2051,"ICHEC":30,"IPSL":18,"MOHC":28,"MPI":29},
{"rcp":"8.5","year":2052,"ICHEC":30,"IPSL":18,"MOHC":27,"MPI":29},
{"rcp":"8.5","year":2053,"ICHEC":31,"IPSL":18,"MOHC":27,"MPI":29},
{"rcp":"8.5","year":2054,"ICHEC":34,"IPSL":19,"MOHC":26,"MPI":31},
{"rcp":"8.5","year":2055,"ICHEC":37,"IPSL":19,"MOHC":27,"MPI":33},
{"rcp":"8.5","year":2056,"ICHEC":40,"IPSL":18,"MOHC":26,"MPI":34},
{"rcp":"8.5","year":2057,"ICHEC":42,"IPSL":18,"MOHC":25,"MPI":36},
{"rcp":"8.5","year":2058,"ICHEC":44,"IPSL":18,"MOHC":24,"MPI":36},
{"rcp":"8.5","year":2059,"ICHEC":45,"IPSL":17,"MOHC":24,"MPI":37},
{"rcp":"8.5","year":2060,"ICHEC":47,"IPSL":17,"MOHC":25,"MPI":37},
{"rcp":"8.5","year":2061,"ICHEC":49,"IPSL":16,"MOHC":23,"MPI":37},
{"rcp":"8.5","year":2062,"ICHEC":51,"IPSL":15,"MOHC":21,"MPI":35},
{"rcp":"8.5","year":2063,"ICHEC":51,"IPSL":13,"MOHC":20,"MPI":33},
{"rcp":"8.5","year":2064,"ICHEC":51,"IPSL":12,"MOHC":19,"MPI":31},
{"rcp":"8.5","year":2065,"ICHEC":49,"IPSL":11,"MOHC":18,"MPI":30},
{"rcp":"8.5","year":2066,"ICHEC":45,"IPSL":11,"MOHC":17,"MPI":30},
{"rcp":"8.5","year":2067,"ICHEC":43,"IPSL":11,"MOHC":16,"MPI":31},
{"rcp":"8.5","year":2068,"ICHEC":42,"IPSL":12,"MOHC":17,"MPI":30},
{"rcp":"8.5","year":2069,"ICHEC":40,"IPSL":11,"MOHC":17,"MPI":29},
{"rcp":"8.5","year":2070,"ICHEC":38,"IPSL":11,"MOHC":16,"MPI":28},
{"rcp":"8.5","year":2071,"ICHEC":37,"IPSL":10,"MOHC":17,"MPI":28},
{"rcp":"8.5","year":2072,"ICHEC":35,"IPSL":10,"MOHC":18,"MPI":27},
{"rcp":"8.5","year":2073,"ICHEC":37,"IPSL":9,"MOHC":19,"MPI":27},
{"rcp":"8.5","year":2074,"ICHEC":46,"IPSL":9,"MOHC":20,"MPI":26},
{"rcp":"8.5","year":2075,"ICHEC":50,"IPSL":8,"MOHC":19,"MPI":25},
{"rcp":"8.5","year":2076,"ICHEC":51,"IPSL":6,"MOHC":20,"MPI":24},
{"rcp":"8.5","year":2077,"ICHEC":52,"IPSL":5,"MOHC":20,"MPI":24},
{"rcp":"8.5","year":2078,"ICHEC":51,"IPSL":5,"MOHC":19,"MPI":24},
{"rcp":"8.5","year":2079,"ICHEC":51,"IPSL":5,"MOHC":20,"MPI":24},
{"rcp":"8.5","year":2080,"ICHEC":49,"IPSL":5,"MOHC":20,"MPI":24},
{"rcp":"8.5","year":2081,"ICHEC":45,"IPSL":6,"MOHC":19,"MPI":24},
{"rcp":"8.5","year":2082,"ICHEC":45,"IPSL":6,"MOHC":18,"MPI":22},
{"rcp":"8.5","year":2083,"ICHEC":49,"IPSL":7,"MOHC":18,"MPI":22},
{"rcp":"8.5","year":2084,"ICHEC":51,"IPSL":7,"MOHC":18,"MPI":21},
{"rcp":"8.5","year":2085,"ICHEC":51,"IPSL":7,"MOHC":18,"MPI":21},
{"rcp":"8.5","year":2086,"ICHEC":50,"IPSL":8,"MOHC":18,"MPI":21},
{"rcp":"8.5","year":2087,"ICHEC":49,"IPSL":8,"MOHC":18,"MPI":21},
{"rcp":"8.5","year":2088,"ICHEC":50,"IPSL":8,"MOHC":17,"MPI":19},
{"rcp":"8.5","year":2089,"ICHEC":51,"IPSL":8,"MOHC":16,"MPI":18},
{"rcp":"8.5","year":2090,"ICHEC":50,"IPSL":9,"MOHC":16,"MPI":16},
{"rcp":"8.5","year":2091,"ICHEC":51,"IPSL":9,"MOHC":16,"MPI":16},
{"rcp":"8.5","year":2092,"ICHEC":52,"IPSL":9,"MOHC":17,"MPI":17},
{"rcp":"8.5","year":2093,"ICHEC":51,"IPSL":9,"MOHC":18,"MPI":16},
{"rcp":"8.5","year":2094,"ICHEC":51,"IPSL":10,"MOHC":17,"MPI":15},
{"rcp":"8.5","year":2095,"ICHEC":46,"IPSL":10,"MOHC":17,"MPI":16},
{"rcp":"8.5","year":2096,"ICHEC":41,"IPSL":9,"MOHC":16,"MPI":17},
{"rcp":"8.5","year":2097,"ICHEC":40,"IPSL":10,"MOHC":16,"MPI":18},
{"rcp":"8.5","year":2098,"ICHEC":40,"IPSL":11,"MOHC":15,"MPI":16},
{"rcp":"8.5","year":2099,"ICHEC":40,"IPSL":11,"MOHC":15,"MPI":16}
]},
"spacing":30,
"resolve":{"scale":{"color":"independent"}},
"vconcat":[
{"spacing":14,"resolve":{"scale":{"color":"independent"}},
"vconcat":[
{"width":485,"height":177,
"layer":[
{"data":{"name":"annual"},"transform":[{"filter":"datum.rcp == '4.5'"},{"fold":["ICHEC","IPSL","MOHC","MPI"],"as":["model","days"]}],
"mark":{"type":"line","strokeWidth":1},
"encoding":{
"x":{"field":"year","type":"ordinal","scale":{"type":"point","padding":0.5},"axis":{"values":[1985,1995,2005,2020,2030,2040,2050,2060,2070,2080,2090],"labels":false,"title":null,"grid":true}},
"y":{"field":"days","type":"quantitative","scale":{"domain":[0,160]},"axis":{"values":[0,20,40,60,80,100,120,140,160],"title":"Number of days","titleFontSize":14,"labelFontSize":11,"labelPadding":12,"titlePadding":8}},
"color":{"field":"model","type":"nominal","scale":{"domain":["ICHEC","IPSL","MOHC","MPI"],"range":["#4A7EC2","#D9463E","#9BBB59","#8064A2"]}},
"opacity":{"condition":{"test":"datum.model == 'ICHEC'","value":0.55},"value":0.15}}},
{"data":{"name":"smooth"},"transform":[{"filter":"datum.rcp == '4.5'"},{"fold":["ICHEC","IPSL","MOHC","MPI"],"as":["model","days"]}],
"mark":{"type":"line","strokeWidth":2.2},
"encoding":{
"x":{"field":"year","type":"ordinal"},
"y":{"field":"days","type":"quantitative"},
"color":{"field":"model","type":"nominal","legend":null}}},
{"data":{"values":[{"label":"RCP4.5"}]},"mark":{"type":"rect","fill":"white"},
"encoding":{"x":{"datum":2083,"type":"ordinal"},"x2":{"datum":2097},"y":{"datum":132,"type":"quantitative"},"y2":{"datum":150}}},
{"data":{"values":[{"label":"RCP4.5"}]},"mark":{"type":"text","fontSize":15.5,"color":"#1a1a1a"},
"encoding":{"x":{"datum":2090,"type":"ordinal"},"y":{"datum":141,"type":"quantitative"},"text":{"field":"label"}}}
]},
{"width":485,"height":177,
"layer":[
{"data":{"name":"annual"},"transform":[{"filter":"datum.rcp == '8.5'"},{"fold":["ICHEC","IPSL","MOHC","MPI"],"as":["model","days"]}],
"mark":{"type":"line","strokeWidth":1},
"encoding":{
"x":{"field":"year","type":"ordinal","scale":{"type":"point","padding":0.5},"axis":{"values":[1975,1980,1985,1990,1995,2000,2005,2015,2020,2025,2030,2035,2040,2045,2050,2055,2060,2065,2070,2075,2080,2085,2090,2095],"labelAngle":-90,"labelFontSize":11,"labelPadding":6,"title":null,"grid":true,"gridOpacity":{"condition":{"test":"indexof([1985,1995,2005,2020,2030,2040,2050,2060,2070,2080,2090], datum.value) >= 0","value":1},"value":0}}},
"y":{"field":"days","type":"quantitative","scale":{"domain":[0,160]},"axis":{"values":[0,20,40,60,80,100,120,140,160],"title":"Number of days","titleFontSize":14,"labelFontSize":11,"labelPadding":12,"titlePadding":8}},
"color":{"field":"model","type":"nominal","scale":{"domain":["ICHEC","IPSL","MOHC","MPI"],"range":["#4A7EC2","#D9463E","#9BBB59","#8064A2"]}},
"opacity":{"condition":{"test":"datum.model == 'ICHEC'","value":0.55},"value":0.15}}},
{"data":{"name":"smooth"},"transform":[{"filter":"datum.rcp == '8.5'"},{"fold":["ICHEC","IPSL","MOHC","MPI"],"as":["model","days"]}],
"mark":{"type":"line","strokeWidth":2.2},
"encoding":{
"x":{"field":"year","type":"ordinal"},
"y":{"field":"days","type":"quantitative"},
"color":{"field":"model","type":"nominal","legend":{"title":null,"orient":"bottom","direction":"horizontal","symbolType":"stroke","symbolSize":784,"symbolStrokeWidth":2.2,"labelFontSize":11,"labelColor":"#595959","columnPadding":48,"gridAlign":"all","offset":3,"labelOffset":4}}}},
{"data":{"values":[{"label":"RCP8.5"}]},"mark":{"type":"rect","fill":"white"},
"encoding":{"x":{"datum":2083,"type":"ordinal"},"x2":{"datum":2097},"y":{"datum":133,"type":"quantitative"},"y2":{"datum":151}}},
{"data":{"values":[{"label":"RCP8.5"}]},"mark":{"type":"text","fontSize":15.5,"color":"#1a1a1a"},
"encoding":{"x":{"datum":2090,"type":"ordinal"},"y":{"datum":142,"type":"quantitative"},"text":{"field":"label"}}}
]}
]},
{"hconcat":[
{"width":17,"height":1,"view":{"stroke":null},"data":{"values":[]},"mark":"point","encoding":{}},
{"spacing":17,"resolve":{"scale":{"color":"independent"}},
"vconcat":[
{"width":571,"height":209,
"layer":[
{"data":{"name":"annual"},"transform":[{"filter":"datum.rcp == '4.5' && datum.year <= 2096"},{"fold":["ICHEC","IPSL","MOHC","MPI"],"as":["model","days"]}],
"mark":{"type":"line","strokeWidth":1},
"encoding":{
"x":{"field":"year","type":"ordinal","scale":{"type":"point","padding":0.5},"axis":{"values":[1985,1995,2005,2020,2030,2040,2050,2060,2070,2080,2090],"labels":false,"title":null,"grid":true}},
"y":{"field":"days","type":"quantitative","scale":{"domain":[0,160]},"axis":{"values":[0,20,40,60,80,100,120,140,160],"title":"Number of days","titleFontSize":16.5,"labelFontSize":13.5,"labelPadding":18,"titlePadding":6}},
"color":{"field":"model","type":"nominal","scale":{"domain":["ICHEC","IPSL","MOHC","MPI"],"range":["#6EB1DE","#8ECB7A","#F4865C","#DDC3E6"]}},
"opacity":{"condition":{"test":"datum.model == 'ICHEC'","value":0.6},"value":0.22}}},
{"data":{"name":"smooth"},"transform":[{"filter":"datum.rcp == '4.5' && datum.year <= 2096"},{"fold":["ICHEC","IPSL","MOHC","MPI"],"as":["model","days"]}],
"mark":{"type":"line","strokeWidth":2.8},
"encoding":{
"x":{"field":"year","type":"ordinal"},
"y":{"field":"days","type":"quantitative"},
"color":{"field":"model","type":"nominal","legend":null}}},
{"data":{"values":[{"label":"RCP 4.5"}]},"mark":{"type":"rect","fill":"white"},
"encoding":{"x":{"datum":2079,"type":"ordinal"},"x2":{"datum":2096},"y":{"datum":131,"type":"quantitative"},"y2":{"datum":150}}},
{"data":{"values":[{"label":"RCP 4.5"}]},"mark":{"type":"text","fontSize":19,"color":"#1a1a1a"},
"encoding":{"x":{"datum":2088,"type":"ordinal"},"y":{"datum":140,"type":"quantitative"},"text":{"field":"label"}}}
]},
{"width":571,"height":209,
"layer":[
{"data":{"name":"annual"},"transform":[{"filter":"datum.rcp == '8.5' && datum.year <= 2096"},{"fold":["ICHEC","IPSL","MOHC","MPI"],"as":["model","days"]}],
"mark":{"type":"line","strokeWidth":1},
"encoding":{
"x":{"field":"year","type":"ordinal","scale":{"type":"point","padding":0.5},"axis":{"values":[1975,1980,1985,1990,1995,2000,2005,2015,2020,2025,2030,2035,2040,2045,2050,2055,2060,2065,2070,2075,2080,2085,2090,2095],"labelAngle":-90,"labelFontSize":13.5,"labelPadding":10,"title":null,"grid":true,"gridOpacity":{"condition":{"test":"indexof([1985,1995,2005,2020,2030,2040,2050,2060,2070,2080,2090], datum.value) >= 0","value":1},"value":0}}},
"y":{"field":"days","type":"quantitative","scale":{"domain":[0,160]},"axis":{"values":[0,20,40,60,80,100,120,140,160],"title":"Number of days","titleFontSize":16.5,"labelFontSize":13.5,"labelPadding":18,"titlePadding":6}},
"color":{"field":"model","type":"nominal","scale":{"domain":["ICHEC","IPSL","MOHC","MPI"],"range":["#6EB1DE","#8ECB7A","#F4865C","#DDC3E6"]}},
"opacity":{"condition":{"test":"datum.model == 'ICHEC'","value":0.6},"value":0.22}}},
{"data":{"name":"smooth"},"transform":[{"filter":"datum.rcp == '8.5' && datum.year <= 2096"},{"fold":["ICHEC","IPSL","MOHC","MPI"],"as":["model","days"]}],
"mark":{"type":"line","strokeWidth":2.8},
"encoding":{
"x":{"field":"year","type":"ordinal"},
"y":{"field":"days","type":"quantitative"},
"color":{"field":"model","type":"nominal","legend":{"title":null,"orient":"bottom","direction":"horizontal","symbolType":"stroke","symbolSize":1024,"symbolStrokeWidth":2.8,"labelFontSize":14,"labelColor":"#595959","columnPadding":55,"gridAlign":"all","offset":5,"labelOffset":5}}}},
{"data":{"values":[{"label":"RCP 8.5"}]},"mark":{"type":"rect","fill":"white"},
"encoding":{"x":{"datum":2079,"type":"ordinal"},"x2":{"datum":2096},"y":{"datum":134,"type":"quantitative"},"y2":{"datum":153}}},
{"data":{"values":[{"label":"RCP 8.5"}]},"mark":{"type":"text","fontSize":19,"color":"#1a1a1a"},
"encoding":{"x":{"datum":2088,"type":"ordinal"},"y":{"datum":143,"type":"quantitative"},"text":{"field":"label"}}}
]}
]}
],"spacing":0,"bounds":"flush","resolve":{"scale":{"color":"independent"},"legend":{"color":"independent"}}}
]
}
